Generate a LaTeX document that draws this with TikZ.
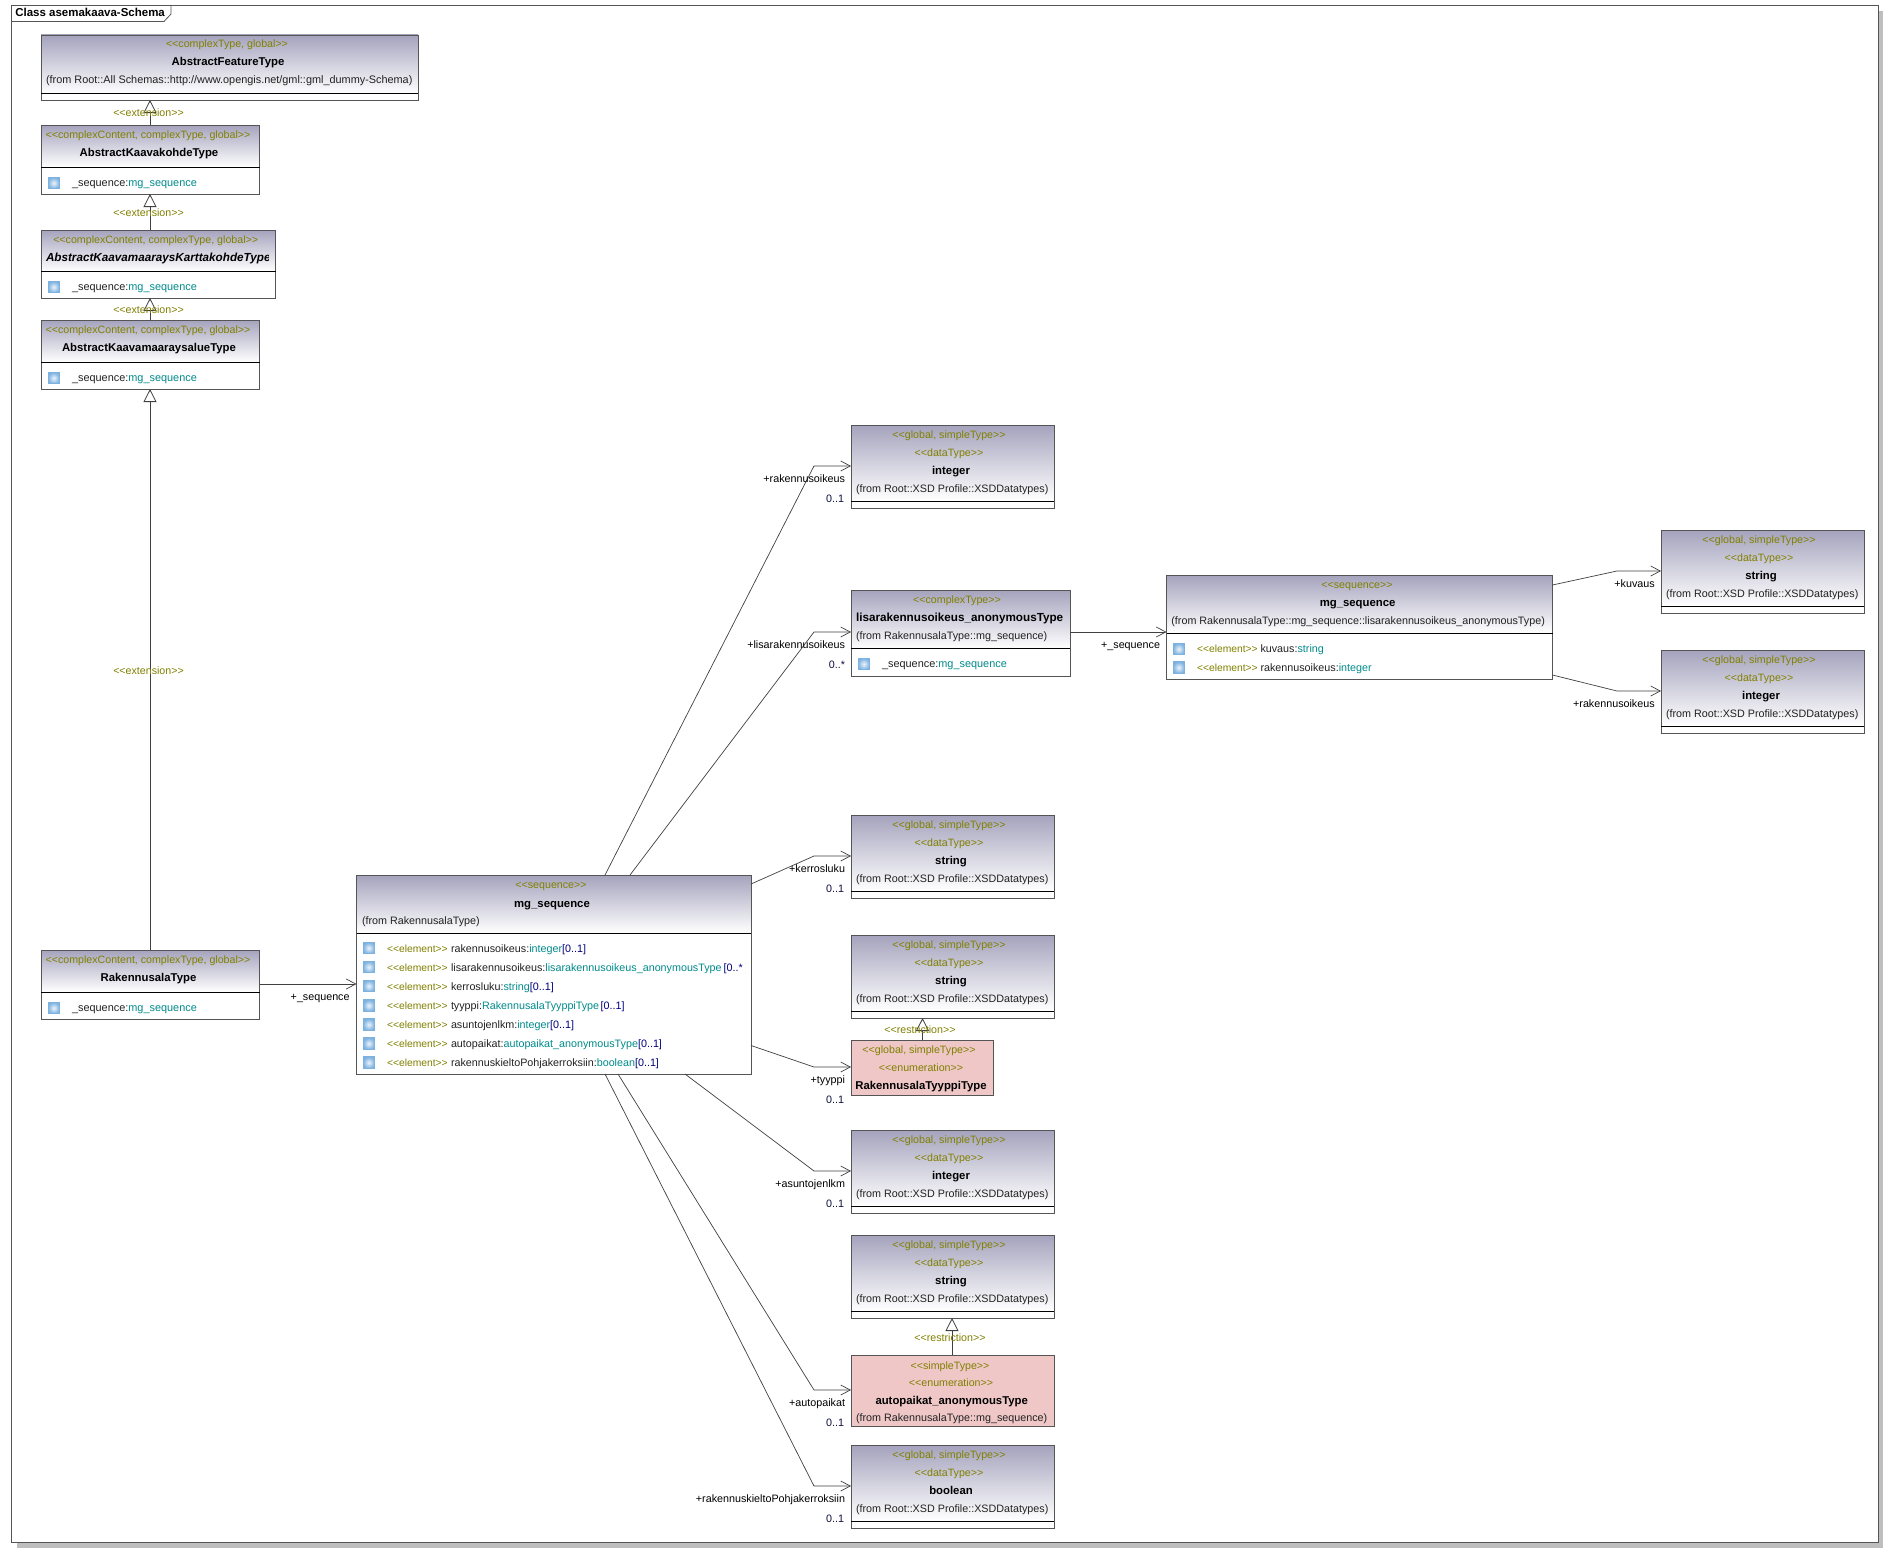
\documentclass[tikz,border=0pt]{standalone}
\usepackage{fontspec}
\setmainfont{Liberation Sans}
\usetikzlibrary{arrows.meta}
\definecolor{bord}{HTML}{555555}
\definecolor{linec}{HTML}{404040}
\definecolor{hdrtop}{HTML}{A5A3BD}
\definecolor{pinkbox}{HTML}{EFC7C7}
\definecolor{olv}{HTML}{808000}
\definecolor{tl}{HTML}{008B8B}
\definecolor{nv}{HTML}{000080}
\definecolor{nvd}{HTML}{101040}
\definecolor{shadowc}{HTML}{BEBEBE}
\definecolor{txt}{HTML}{222222}
\definecolor{icoedge}{HTML}{7DB2E0}
\newcommand{\fsz}{\fontsize{10.75}{13}\selectfont}
\newcommand{\fszs}{\fontsize{10.65}{13}\selectfont}
\newcommand{\fszb}{\fontsize{11.35}{13}\selectfont}
\newcommand{\sto}[1]{{\color{olv}<{}<#1>{}>}}
\newcommand{\elem}{\makebox[64pt][l]{\fontsize{10.3}{13}\selectfont\sto{element}}}
\newcommand{\ty}[1]{{\color{tl}#1}}
\newcommand{\mul}[1]{{\color{nv}#1}}
\newcommand{\mulb}[1]{{\color{nvd}#1}}
\newcounter{lb}
\newcommand{\tn}[4]{\stepcounter{lb}\node[#1] (t\arabic{lb}) at (#2,#3) {#4};}
\tikzset{
  tbase/.style={inner sep=0pt,outer sep=0pt,font=\fsz,text height=9.6pt,text depth=1.6pt,text=txt},
  ctr/.style={tbase,anchor=center},
  lft/.style={tbase,anchor=west},
  rgt/.style={tbase,anchor=east,text=black},
  bld/.style={tbase,anchor=center,text=black,font=\fszb\bfseries},
  stereo/.style={tbase,anchor=center,text=olv,font=\fszs},
  bodybox/.style={draw=bord,line width=.9pt,fill=white,inner sep=0pt,outer sep=0pt,anchor=north west},
  headbox/.style={draw=bord,line width=.9pt,top color=hdrtop,bottom color=white,inner sep=0pt,outer sep=0pt,anchor=north west},
  pinkb/.style={draw=bord,line width=.9pt,fill=pinkbox,inner sep=0pt,outer sep=0pt,anchor=north west},
  icon/.style={inner sep=0pt,outer sep=0pt,minimum width=11.5pt,minimum height=11.5pt,anchor=west,draw=icoedge,line width=.8pt,inner color=white!85!icoedge,outer color=icoedge},
  assoc/.style={draw=linec,line width=.7pt,-{Straight Barb[length=9.5pt,width=10pt,line width=.7pt]}},
  gen/.style={draw=linec,line width=.8pt,-{Triangle[open,fill=white,length=13pt,width=13pt,line width=.8pt]}},
  dlabel/.style={tbase,anchor=center,text=olv,font=\fszs}
}
% name x y w h headerheight
\newcommand{\ubox}[6]{%
  \node[bodybox,minimum width=#4pt,minimum height=#5pt] (#1) at (#2,#3) {};
  \node[headbox,minimum width=#4pt,minimum height=#6pt] (#1h) at (#1.north west) {};
  \draw[black,line width=.9pt] (#1h.south west) -- (#1h.south east);
}
\newcommand{\ico}[3]{\node[icon] (#1) at (#2,#3) {};}
% name x y stereo1 typename from  (simple datatype box)
\newcommand{\dtype}[6]{%
  \ubox{#1}{#2}{#3}{203}{83}{76}
  \pgfmathsetmacro{\cx}{#2+98}\pgfmathsetmacro{\ya}{#3+9.5}\pgfmathsetmacro{\yb}{#3+27.5}%
  \pgfmathsetmacro{\yc}{#3+45.3}\pgfmathsetmacro{\yd}{#3+63}\pgfmathsetmacro{\fx}{#2+5}\pgfmathsetmacro{\nx}{#2+100}%
  \tn{stereo}{\cx}{\ya}{\sto{#4}}
  \tn{stereo}{\cx}{\yb}{\sto{dataType}}
  \tn{bld}{\nx}{\yc}{#5}
  \tn{lft}{\fx}{\yd}{#6}
}
\begin{document}
\begin{tikzpicture}[x=1pt,y=-1pt]
\useasboundingbox (0,0) rectangle (1904,1563);
\fill[white] (0,0) rectangle (1904,1563);
% diagram frame with shadow
\fill[shadowc] (17,11) rectangle (1883,1548);
\node[draw=bord,line width=.8pt,fill=white,inner sep=0pt,outer sep=0pt,minimum width=1866.5pt,minimum height=1537pt,anchor=north west] (frame) at (11.5,5) {};
\coordinate (tabA) at (171,5);
\coordinate (tabB) at (171,14);
\coordinate (tabC) at (164,21.5);
\coordinate (tabD) at (11.5,21.5);
\draw[bord,line width=.8pt] (tabA) -- (tabB) -- (tabC) -- (tabD);
\node[tbase,anchor=west,text=black,font=\fontsize{11.5}{13}\selectfont\bfseries] (title) at (15.3,13) {Class asemakaava-Schema};

% left column
\ubox{feat}{41}{35}{377}{65}{58.5}
\tn{stereo}{227}{44}{\sto{complexType, global}}
\tn{bld}{228}{62}{AbstractFeatureType}
\tn{lft,font=\fontsize{10.88}{13}\selectfont}{46}{80}{(from Root::All Schemas::http://www.opengis.net/gml::gml\_dummy-Schema)}

\ubox{kohde}{41}{125}{218.5}{69}{42}
\tn{stereo}{148}{134}{\sto{complexContent, complexType, global}}
\tn{bld}{149}{152}{AbstractKaavakohdeType}
\ico{ic1}{48}{183}
\tn{lft,font=\fontsize{10.9}{13}\selectfont}{72}{182}{\_sequence:\ty{mg\_sequence}}

\ubox{kartta}{41}{230}{234.5}{68}{41.5}
\tn{stereo}{155.7}{239}{\sto{complexContent, complexType, global}}
\begin{scope}
\clip (45,248) rectangle (268,266);
\node[tbase,anchor=west,text=black,font=\fontsize{11.7}{13}\selectfont\bfseries\itshape] (kname) at (46,257) {AbstractKaavamaaraysKarttakohdeType};
\end{scope}
\ico{ic2}{48}{287}
\tn{lft,font=\fontsize{10.9}{13}\selectfont}{72}{286}{\_sequence:\ty{mg\_sequence}}

\ubox{alue}{41}{320}{218.5}{69}{42}
\tn{stereo}{148}{329}{\sto{complexContent, complexType, global}}
\tn{bld}{149}{347}{AbstractKaavamaaraysalueType}
\ico{ic3}{48}{378}
\tn{lft,font=\fontsize{10.9}{13}\selectfont}{72}{377.5}{\_sequence:\ty{mg\_sequence}}

\ubox{rak}{41}{950}{218.5}{69}{42}
\tn{stereo}{148}{959}{\sto{complexContent, complexType, global}}
\tn{bld}{148.5}{977}{RakennusalaType}
\ico{ic4}{48}{1008}
\tn{lft,font=\fontsize{10.9}{13}\selectfont}{72}{1007.7}{\_sequence:\ty{mg\_sequence}}

% central sequence
\ubox{mg}{356.5}{875}{394.5}{199}{58}
\tn{stereo}{551}{884}{\sto{sequence}}
\tn{bld}{552}{903}{mg\_sequence}
\tn{lft}{362}{920}{(from RakennusalaType)}
\ico{ic5}{363}{948}
\ico{ic6}{363}{967}
\ico{ic7}{363}{986}
\ico{ic8}{363}{1005.5}
\ico{ic9}{363}{1024.5}
\ico{ic10}{363}{1043.5}
\ico{ic11}{363}{1062.5}
\tn{lft}{387}{948}{\elem rakennusoikeus:\ty{integer}\mul{[0..1]}}
\begin{scope}
\clip (386,957) rectangle (745,978);
\node[lft] (row2) at (387,967) {\elem lisarakennusoikeus:\ty{lisarakennusoikeus\_anonymousType}\hspace{2pt}\mul{[0..*}\hspace{3pt}\mul{]}};
\end{scope}
\tn{lft}{387}{986}{\elem kerrosluku:\ty{string}\mul{[0..1]}}
\tn{lft}{387}{1005.5}{\elem tyyppi:\ty{RakennusalaTyyppiType}\hspace{1.5pt}\mul{[0..1]}}
\tn{lft}{387}{1024.5}{\elem asuntojenlkm:\ty{integer}\mul{[0..1]}}
\tn{lft}{387}{1043.5}{\elem autopaikat:\ty{autopaikat\_anonymousType}\mul{[0..1]}}
\tn{lft}{387}{1062.5}{\elem rakennuskieltoPohjakerroksiin:\ty{boolean}\mul{[0..1]}}

% datatype column
\dtype{intA}{851}{425}{global, simpleType}{integer}{(from Root::XSD Profile::XSDDatatypes)}
\dtype{strA}{851}{815}{global, simpleType}{string}{(from Root::XSD Profile::XSDDatatypes)}
\dtype{strB}{851}{935}{global, simpleType}{string}{(from Root::XSD Profile::XSDDatatypes)}
\dtype{intB}{851}{1130}{global, simpleType}{integer}{(from Root::XSD Profile::XSDDatatypes)}
\dtype{strC}{851}{1235}{global, simpleType}{string}{(from Root::XSD Profile::XSDDatatypes)}
\dtype{boolA}{851}{1445}{global, simpleType}{boolean}{(from Root::XSD Profile::XSDDatatypes)}
\dtype{strD}{1661}{530}{global, simpleType}{string}{(from Root::XSD Profile::XSDDatatypes)}
\dtype{intC}{1661}{650}{global, simpleType}{integer}{(from Root::XSD Profile::XSDDatatypes)}

% lisarakennusoikeus
\ubox{lisa}{851}{590}{219}{86}{58.7}
\tn{stereo}{957}{599}{\sto{complexType}}
\node[tbase,anchor=west,text=black,font=\fontsize{11.7}{13}\selectfont\bfseries] (lisaname) at (856,617) {lisarakennusoikeus\_anonymousType};
\tn{lft}{856}{635}{(from RakennusalaType::mg\_sequence)}
\ico{ic12}{858}{664}
\tn{lft,font=\fontsize{10.9}{13}\selectfont}{882}{663.7}{\_sequence:\ty{mg\_sequence}}

% right sequence
\ubox{mgB}{1166.5}{575}{386}{104}{58}
\tn{stereo}{1357}{584}{\sto{sequence}}
\tn{bld}{1357.6}{602.7}{mg\_sequence}
\tn{lft}{1171.4}{620.7}{(from RakennusalaType::mg\_sequence::lisarakennusoikeus\_anonymousType)}
\ico{ic13}{1173}{649}
\ico{ic14}{1173}{667.5}
\tn{lft}{1197}{648.7}{\makebox[63.5pt][l]{\fontsize{10.3}{13}\selectfont\sto{element}}kuvaus:\ty{string}}
\tn{lft}{1197}{667.5}{\makebox[63.5pt][l]{\fontsize{10.3}{13}\selectfont\sto{element}}rakennusoikeus:\ty{integer}}

% pink enumerations
\node[pinkb,minimum width=142pt,minimum height=55pt] (enumA) at (851,1040) {};
\tn{stereo}{919}{1049}{\sto{global, simpleType}}
\tn{stereo}{921}{1067}{\sto{enumeration}}
\tn{bld}{921}{1085}{RakennusalaTyyppiType}
\node[pinkb,minimum width=203.7pt,minimum height=71pt] (enumB) at (851,1355) {};
\tn{stereo}{950}{1365}{\sto{simpleType}}
\tn{stereo}{951}{1382}{\sto{enumeration}}
\tn{bld}{951.7}{1400}{autopaikat\_anonymousType}
\tn{lft}{856}{1417.6}{(from RakennusalaType::mg\_sequence)}

% bend points
\coordinate (b1) at (814,466);
\coordinate (b2) at (814,632);
\coordinate (b3) at (814,856);
\coordinate (b4) at (814,1067);
\coordinate (b5) at (814,1171);
\coordinate (b6) at (814,1390);
\coordinate (b7) at (814,1486);
\coordinate (b8) at (1617,571);
\coordinate (b9) at (1617,691);

% generalisations
\draw[gen] ([xshift=109pt]kohde.north west) -- ([xshift=109pt]feat.south west);
\draw[gen] ([xshift=109pt]kartta.north west) -- ([xshift=109pt]kohde.south west);
\draw[gen] ([xshift=109pt]alue.north west) -- ([xshift=109pt]kartta.south west);
\draw[gen] ([xshift=109pt]rak.north west) -- ([xshift=109pt]alue.south west);
\draw[gen] ([xshift=71.5pt]enumA.north west) -- ([xshift=71.5pt]strB.south west);
\draw[gen] ([xshift=101pt]enumB.north west) -- ([xshift=101pt]strC.south west);
\tn{dlabel}{148.5}{113}{<{}<extension>{}>}
\tn{dlabel}{148.5}{212}{<{}<extension>{}>}
\tn{dlabel}{148.5}{309}{<{}<extension>{}>}
\tn{dlabel}{148.5}{670}{<{}<extension>{}>}
\tn{dlabel}{920}{1029}{<{}<restriction>{}>}
\tn{dlabel}{950}{1337}{<{}<restriction>{}>}

% associations
\draw[assoc] ([yshift=-34pt]rak.north east) -- ([yshift=-109pt]mg.north west);
\draw[assoc] ([xshift=248.5pt]mg.north west) -- (b1) -- (intA.west |- b1);
\draw[assoc] ([xshift=273.5pt]mg.north west) -- (b2) -- (lisa.west |- b2);
\draw[assoc] ([yshift=-9pt]mg.north east) -- (b3) -- (strA.west |- b3);
\draw[assoc] ([yshift=-170.5pt]mg.north east) -- (b4) -- (enumA.west |- b4);
\draw[assoc] ([xshift=328.5pt]mg.south west) -- (b5) -- (intB.west |- b5);
\draw[assoc] ([xshift=261.5pt]mg.south west) -- (b6) -- (enumB.west |- b6);
\draw[assoc] ([xshift=248.5pt]mg.south west) -- (b7) -- (boolA.west |- b7);
\draw[assoc] ([yshift=-42pt]lisa.north east) -- ([yshift=-57pt]mgB.north west);
\draw[assoc] ([yshift=-10pt]mgB.north east) -- (b8) -- (strD.west |- b8);
\draw[assoc] ([yshift=-100pt]mgB.north east) -- (b9) -- (intC.west |- b9);

% association labels
\tn{rgt}{845}{478}{+rakennusoikeus}
\tn{rgt}{844}{498}{\mulb{0..1}}
\tn{rgt}{845}{644}{+lisarakennusoikeus}
\tn{rgt}{845}{664}{\mulb{0..*}}
\tn{rgt}{845}{868}{+kerrosluku}
\tn{rgt}{844}{888}{\mulb{0..1}}
\tn{rgt}{845}{1079}{+tyyppi}
\tn{rgt}{844}{1099}{\mulb{0..1}}
\tn{rgt}{845}{1183}{+asuntojenlkm}
\tn{rgt}{844}{1203}{\mulb{0..1}}
\tn{rgt}{845}{1402}{+autopaikat}
\tn{rgt}{844}{1422}{\mulb{0..1}}
\tn{rgt}{845}{1498}{+rakennuskieltoPohjakerroksiin}
\tn{rgt}{844}{1518}{\mulb{0..1}}
\tn{rgt}{349.6}{996.7}{+\_sequence}
\tn{rgt}{1160}{644}{+\_sequence}
\tn{rgt}{1654.7}{583}{+kuvaus}
\tn{rgt}{1654.7}{703}{+rakennusoikeus}
\end{tikzpicture}
\end{document}
